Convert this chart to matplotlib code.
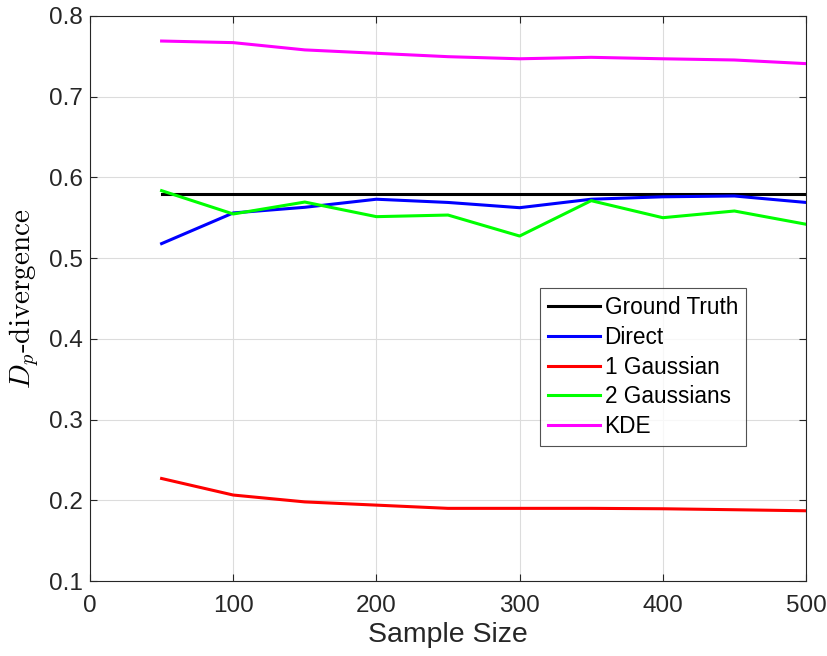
import matplotlib
matplotlib.use("Agg")
import matplotlib.pyplot as plt

sample_size = [50, 100, 150, 200, 250, 300, 350, 400, 450, 500]
ground_truth = [0.58] * 10
direct = [0.518, 0.556, 0.563, 0.573, 0.569, 0.5625, 0.573, 0.576, 0.577, 0.569]
gauss1 = [0.227, 0.2065, 0.198, 0.194, 0.190, 0.190, 0.190, 0.1895, 0.1883, 0.187]
gauss2 = [0.5836, 0.5547, 0.5695, 0.5514, 0.5534, 0.5274, 0.5712, 0.5501, 0.5584, 0.542]
kde = [0.769, 0.767, 0.758, 0.7538, 0.7496, 0.747, 0.7488, 0.747, 0.7455, 0.741]

plt.rcParams['font.family'] = ['Liberation Sans', 'DejaVu Sans']
plt.rcParams['mathtext.fontset'] = 'cm'

fig = plt.figure(figsize=(8.28, 6.56), dpi=100)
ax = fig.add_axes([90/828, 1-581/656, (806-90)/828, (581-16)/656])

lw = 2.2
ax.plot(sample_size, ground_truth, color='black', lw=lw, label='Ground Truth')
ax.plot(sample_size, direct, color='#0000ff', lw=lw, label='Direct')
ax.plot(sample_size, gauss1, color='#ff0000', lw=lw, label='1 Gaussian')
ax.plot(sample_size, gauss2, color='#00ff00', lw=lw, label='2 Gaussians')
ax.plot(sample_size, kde, color='#ff00ff', lw=lw, label='KDE')

ax.set_xlim(0, 500)
ax.set_ylim(0.1, 0.8)
ax.set_xticks([0, 100, 200, 300, 400, 500])
ax.set_yticks([0.1, 0.2, 0.3, 0.4, 0.5, 0.6, 0.7, 0.8])
ax.grid(True, color='#dcdcdc', lw=0.8)
ax.set_axisbelow(True)
ax.tick_params(direction='in', top=True, right=True, labelsize=17.5, length=5,
               colors='#262626')
ax.tick_params(axis='x', pad=10)
ax.tick_params(axis='y', pad=5)
for s in ax.spines.values():
    s.set_color('#262626')
    s.set_linewidth(0.8)

ax.set_xlabel('Sample Size', fontsize=20.5, color='#262626', labelpad=4)
ax.set_ylabel(r'$D_p\mathrm{\text{-}divergence}$', fontsize=21, labelpad=6)

leg = ax.legend(loc='upper left', bbox_to_anchor=((540-90)/716, 1-(288-16)/565),
                fontsize=16.3, frameon=True, fancybox=False, edgecolor='#262626',
                handlelength=2.3, handletextpad=0.2, borderpad=0.35, labelspacing=0.3,
                borderaxespad=0)
leg.get_frame().set_linewidth(0.8)

fig.savefig('out.png', dpi=100)
